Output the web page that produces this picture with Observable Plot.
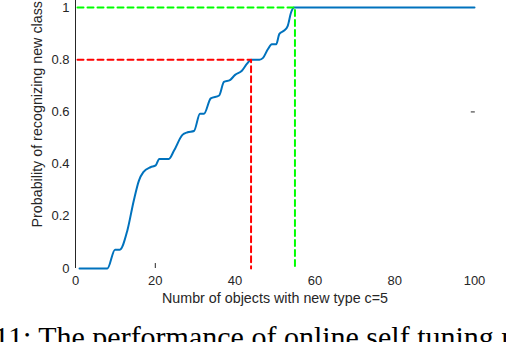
<!DOCTYPE html>
<html>
<head>
<meta charset="utf-8">
<script src="https://cdn.jsdelivr.net/npm/d3@7"></script>
<script src="https://cdn.jsdelivr.net/npm/@observablehq/plot@0.6"></script>
<style>
  html, body { margin: 0; padding: 0; background: #fff; overflow: hidden; width: 506px; height: 342px; }
  #chart svg { display: block; }
  #caption { font-family: "Liberation Serif", serif; font-size: 30px; line-height: 30px; white-space: nowrap; margin-left: -6px; margin-top: 2px; color: #000; overflow: hidden; width: 512px; }
</style>
</head>
<body>
<div id="chart"></div>
<div id="caption">11: The performance of online self tuning model</div>
<script>
// Curve: number of objects vs probability of recognizing new class
const objects = [1, 8, 9.9, 11.1, 13, 14.6, 15.9, 17, 18.8, 20.1, 21, 23.4, 24.7, 26.8, 28.1, 29.7, 31.2, 32.2, 33.9, 36, 37.2, 38.7, 40, 41.7, 43, 44, 46.1, 47, 48.2, 49.2, 50.3, 51.1, 52.3, 53.2, 54, 54.8, 100];
const probability = [0, 0, 0.072, 0.072, 0.146, 0.26, 0.337, 0.369, 0.388, 0.395, 0.42, 0.42, 0.452, 0.512, 0.522, 0.527, 0.593, 0.593, 0.652, 0.663, 0.715, 0.722, 0.742, 0.758, 0.785, 0.8, 0.8, 0.807, 0.84, 0.859, 0.859, 0.899, 0.912, 0.93, 0.98, 1, 1];

// Reference lines
const redX = [0, 44, 44];
const redY = [0.8, 0.8, 0];
const greenX = [0, 55, 55];
const greenY = [1, 1, 0];

// Ticks
const xTicks = [0, 20, 40, 60, 80, 100];
const yTicks = [0, 0.2, 0.4, 0.6, 0.8, 1];
const xLabel = "Numbr of objects with new type c=5";
const yLabel = "Probability of recognizing new class";

// Small tick marks visible in the figure
const xTickMarks = [20];
const yTickMarksRight = [0.6];

const curve = objects.map((x, i) => ({x, y: probability[i]}));
const red = redX.map((x, i) => ({x, y: redY[i]}));
const green = greenX.map((x, i) => ({x, y: greenY[i]}));

const chart = Plot.plot({
  width: 506,
  height: 320,
  marginLeft: 75,
  marginRight: 32,
  marginTop: 0,
  marginBottom: 52,
  x: {domain: [0, 100]},
  y: {domain: [0, 1.027]},
  style: {fontFamily: "Liberation Sans, Arial, sans-serif", fontSize: "13px", color: "#262626", background: "#fff"},
  marks: [
    Plot.axisX({ticks: xTicks, tickSize: 0, tickPadding: 7, tickFormat: d => String(d), label: null, fontSize: 13}),
    Plot.axisY({ticks: yTicks, tickSize: 0, tickPadding: 6, tickFormat: d => String(d), label: null, fontSize: 13}),
    Plot.ruleX([0], {stroke: "#262626", strokeWidth: 1}),
    Plot.ruleX(xTickMarks, {y1: 0, y2: 0.019, stroke: "#262626", strokeWidth: 1}),
    Plot.ruleY(yTickMarksRight, {x1: 99.2, x2: 100.2, stroke: "#262626", strokeWidth: 1}),
    Plot.line(curve, {x: "x", y: "y", stroke: "#0072BD", strokeWidth: 2, curve: "monotone-x"}),
    Plot.line(red, {x: "x", y: "y", stroke: "#FF0000", strokeWidth: 2, strokeDasharray: "6,4", strokeDashoffset: -2}),
    Plot.line(green, {x: "x", y: "y", stroke: "#00FF00", strokeWidth: 2, strokeDasharray: "6,4", strokeDashoffset: -2}),
    Plot.text([xLabel], {text: d => d, frameAnchor: "bottom", dy: 34, fontSize: 14.3, fill: "#262626"}),
    Plot.text([yLabel], {text: d => d, frameAnchor: "bottom-left", dx: -34, dy: -41, rotate: -90, textAnchor: "start", fontSize: 14.3, fill: "#262626"})
  ]
});
document.getElementById("chart").appendChild(chart);
</script>
</body>
</html>
